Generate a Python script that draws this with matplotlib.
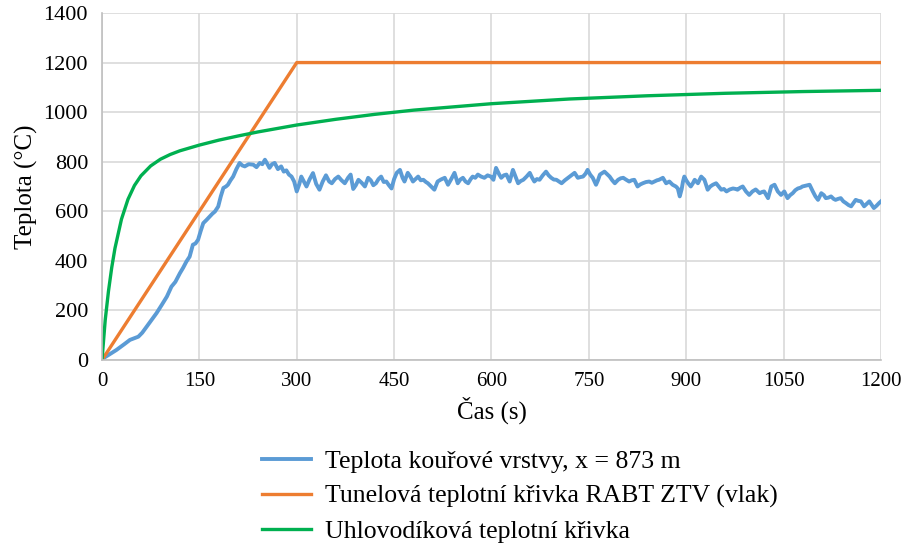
import numpy as np
import matplotlib
matplotlib.use("Agg")
import matplotlib.pyplot as plt

plt.rcParams['font.family'] = ['Liberation Serif', 'DejaVu Serif']

# smoke layer temperature, x = 873 m
t_smoke = [0, 2, 10, 22, 35, 43, 50, 56, 62, 69, 76, 84, 92, 100, 107, 113, 120, 125, 130, 135,
           140, 144, 148, 152, 156, 161, 166, 170, 174, 179, 183, 187, 191, 194, 198, 202, 207, 212,
           216, 220, 226, 233, 238, 243, 247, 251, 255, 258, 262, 266, 271, 276, 280, 284, 288, 292,
           296, 300, 304, 307, 311, 315, 320, 325, 330, 335, 340, 345, 350, 354, 359, 364, 369, 374,
           379, 383, 387, 391, 395, 400, 405, 410, 414, 418, 422, 426, 430, 434, 438, 442, 446, 450,
           454, 459, 463, 466, 471, 475, 479, 483, 487, 491, 495, 499, 502, 507, 512, 517, 522, 528,
           533, 538, 543, 548, 552, 556, 560, 564, 568, 571, 575, 579, 584, 589, 594, 599, 603, 607,
           612, 615, 619, 623, 628, 633, 637, 641, 645, 649, 654, 659, 662, 666, 670, 674, 679, 684,
           688, 692, 696, 700, 704, 708, 713, 718, 723, 728, 733, 737, 741, 745, 748, 752, 756, 761,
           764, 767, 771, 774, 778, 782, 786, 790, 795, 799, 803, 807, 812, 816, 820, 825, 829, 833,
           838, 843, 847, 851, 855, 858, 864, 869, 874, 879, 884, 887, 890, 893, 895, 897, 900, 903,
           907, 910, 913, 918, 923, 928, 933, 937, 941, 946, 950, 954, 958, 962, 967, 972, 976, 979,
           983, 987, 992, 997, 1002, 1007, 1013, 1017, 1020, 1026, 1031, 1036, 1041, 1046, 1051, 1056,
           1060, 1064, 1068, 1072, 1076, 1079, 1084, 1090, 1095, 1099, 1103, 1108, 1112, 1115, 1119,
           1123, 1127, 1130, 1134, 1138, 1142, 1146, 1150, 1154, 1158, 1161, 1165, 1169, 1172, 1174,
           1178, 1182, 1186, 1189, 1193, 1197, 1200]
T_smoke = [0, 7, 20, 40, 65, 81, 88, 94, 110, 135, 160, 189, 222, 256, 296, 315, 350, 372, 397, 417,
           465, 470, 485, 520, 552, 565, 579, 590, 599, 619, 660, 694, 700, 707, 725, 740, 770, 795,
           785, 781, 790, 788, 778, 795, 790, 808, 790, 775, 790, 795, 770, 781, 760, 765, 748, 740,
           720, 680, 710, 740, 720, 700, 730, 754, 710, 687, 720, 745, 720, 713, 730, 740, 725, 713,
           735, 748, 690, 705, 727, 715, 700, 735, 725, 705, 713, 730, 740, 718, 720, 705, 692, 730,
           755, 767, 735, 720, 755, 740, 720, 730, 740, 725, 727, 718, 713, 700, 687, 720, 728, 735,
           707, 730, 755, 713, 728, 735, 720, 713, 730, 740, 735, 748, 740, 735, 745, 740, 727, 775,
           748, 735, 745, 748, 720, 767, 740, 713, 722, 727, 740, 755, 738, 720, 730, 727, 745, 760,
           745, 735, 728, 727, 720, 713, 725, 735, 745, 755, 735, 738, 740, 752, 767, 748, 735, 707,
           725, 748, 755, 760, 750, 740, 725, 713, 727, 733, 735, 728, 720, 725, 727, 700, 708, 713,
           718, 720, 715, 720, 725, 727, 735, 713, 720, 707, 700, 692, 660, 690, 720, 740, 725, 713,
           700, 712, 727, 713, 740, 727, 687, 700, 707, 713, 700, 687, 690, 680, 688, 692, 690, 687,
           695, 700, 680, 666, 680, 688, 673, 678, 680, 653, 700, 707, 680, 666, 680, 653,
           665, 673, 685, 692, 695, 700, 703, 707, 680, 660, 646, 673, 665, 653, 655,
           660, 650, 646, 650, 653, 640, 633, 625, 620, 635, 646, 642, 640, 628, 620,
           630, 640, 625, 613, 622, 633, 640]

# RABT ZTV (train) tunnel curve
t_rabt = [0, 300, 1200]
T_rabt = [0, 1200, 1200]

# hydrocarbon curve
t_hc = [0, 5, 10, 15, 20, 30, 40, 50, 60, 75, 90, 105, 120, 150, 180, 210, 240, 300, 360, 420,
        480, 600, 720, 840, 960, 1080, 1200]
T_hc = [0, 162, 278, 373, 451, 568, 648, 704, 743, 783, 810, 829, 844, 867, 887, 904, 920, 948, 971,
        991, 1008, 1034, 1053, 1066, 1076, 1083, 1088]

labels = ['Teplota kouřové vrstvy, x = 873 m',
          'Tunelová teplotní křivka RABT ZTV (vlak)',
          'Uhlovodíková teplotní křivka']

fig = plt.figure(figsize=(9.01, 5.48), dpi=100)
ax = fig.add_axes([0.1132, 0.3431, 0.8646, 0.6332])

ax.plot(t_smoke, T_smoke, color='#5B9BD5', lw=2.8, label=labels[0])
ax.plot(t_rabt, T_rabt, color='#ED7D31', lw=2.4, label=labels[1])
ax.plot(t_hc, T_hc, color='#00B050', lw=2.4, label=labels[2])

ax.set_xlim(0, 1200)
ax.set_ylim(0, 1400)
ax.set_xticks(np.arange(0, 1201, 150))
ax.set_yticks(np.arange(0, 1401, 200))
ax.grid(True, color='#D9D9D9', lw=1.2)
ax.set_axisbelow(True)
for s in ['top', 'right']:
    ax.spines[s].set_visible(False)
for s in ['left', 'bottom']:
    ax.spines[s].set_color('#BFBFBF')
    ax.spines[s].set_linewidth(1.2)
ax.tick_params(length=0, labelsize=15)
ax.tick_params(axis='y', labelsize=16, pad=10)
ax.tick_params(axis='x', pad=9)

ax.set_xlabel('Čas (s)', fontsize=18, labelpad=4)
ax.set_ylabel('Teplota (°C)', fontsize=18, labelpad=4)

fig.legend(loc='upper left', bbox_to_anchor=(0.291, 0.178), frameon=False,
           fontsize=18.5, handlelength=1.9, handletextpad=0.55, labelspacing=0.45,
           borderpad=0, borderaxespad=0)

fig.savefig('out.png', dpi=100)
